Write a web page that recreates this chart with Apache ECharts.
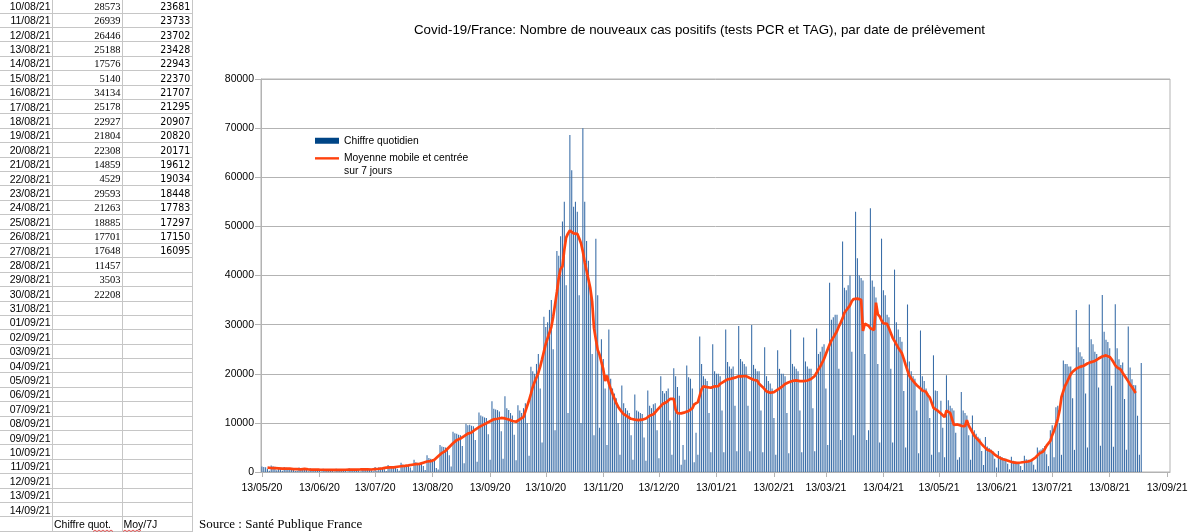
<!DOCTYPE html>
<html>
<head>
<meta charset="utf-8">
<script src="https://cdn.jsdelivr.net/npm/echarts@6/dist/echarts.min.js"></script>
<style>
html,body{margin:0;padding:0;background:#ffffff;}
#chart{width:1200px;height:532px;}
</style>
</head>
<body>
<div id="chart"></div>
<script>
// ---------- DATA ----------
// Axis: one category per day, from 13/05/20 to 14/09/21 (490 days)
const firstDay = [2020, 4, 13];   // year, month index, day
const dayCount = 490;
const tickLabels = ['13/05/20','13/06/20','13/07/20','13/08/20','13/09/20','13/10/20','13/11/20',
  '13/12/20','13/01/21','13/02/21','13/03/21','13/04/21','13/05/21','13/06/21','13/07/21',
  '13/08/21','13/09/21'];

// Daily new positive cases, from Wed 13/05/20 to Mon 30/08/21 (weeks Mon..Sun after the first 5 days)
const dailyCases = [
  1100,1000,950,600,250,
  1300,1150,1050,350,850,600,230,
  1000,850,800,760,700,480,180,
  250,900,750,700,650,420,150,
  750,600,560,530,510,350,120,
  680,540,500,470,450,310,110,
  660,520,490,480,470,320,110,
  750,600,560,540,520,350,120,
  830,650,620,600,580,380,130,
  1000,250,950,870,850,560,190,
  1450,1150,1100,1050,1000,680,230,
  1900,1550,1450,1400,1350,900,300,
  2500,2000,1900,1800,1750,1200,400,
  3400,2850,2700,2650,2600,800,500,
  5500,5200,5100,5000,4900,3400,1100,
  8200,7900,7800,7600,7500,5300,1800,
  9800,9500,9600,9400,9300,6500,2100,
  12100,11500,11300,11100,11000,7700,2500,
  14400,12900,12700,12600,12300,8300,2700,
  15400,13000,12600,12000,11500,7600,2400,
  13600,12500,12000,13000,14000,10000,3300,
  21400,20500,20000,22000,24000,17000,6000,
  31600,29500,30500,33000,35000,25000,8500,
  45000,44000,48000,51000,55000,38000,12000,
  68600,61400,54000,55000,53000,36000,10000,
  70000,55000,47000,43000,38000,24000,7500,
  47500,36000,9000,27000,23000,17000,5500,
  29000,19000,17000,16000,15000,10000,3500,
  17600,14000,13000,12500,12000,7500,2500,
  15800,12500,12300,12000,11800,7000,2300,
  16600,13500,13000,13800,14000,8500,2800,
  19500,16500,16000,16500,17000,10500,3500,
  21100,19500,17300,15500,1500,5500,2500,
  21700,19300,19000,17000,2000,8000,3500,
  27600,22000,19500,19000,18500,12000,4000,
  26000,20500,20000,20000,19500,12500,4000,
  29000,22400,21500,21000,21500,13500,4200,
  29700,23000,22500,22000,21500,13500,4200,
  29900,21800,21000,20500,20500,12500,4000,
  25400,19500,18500,18000,17000,11000,3500,
  24800,21000,20000,20000,19500,12000,3800,
  29000,22000,21500,21000,20500,12500,4000,
  27400,22500,21500,21000,21000,13000,4200,
  29200,24000,24500,25500,26000,17000,5500,
  38500,31000,31500,32000,32000,21000,6500,
  46900,37500,37000,38000,40000,24500,7500,
  53000,43500,40000,39500,39000,24000,6500,
  8500,53700,39000,37700,35500,22000,6000,
  47500,37000,36000,32000,31500,21000,6000,
  41200,30500,29000,27500,26500,16500,5000,
  34100,22500,20500,19500,19000,12500,3800,
  28800,19500,18500,17000,16000,11000,3500,
  23750,16600,16500,4000,14500,9000,3000,
  19700,14600,13500,13000,12500,8000,2500,
  3000,16300,12500,12000,11500,7500,2500,
  11500,8500,7800,7200,6800,4300,1400,
  7100,5200,4900,4600,4300,2700,900,
  4300,3200,3000,2800,2700,1700,550,
  3100,2300,2100,2000,1900,1200,400,
  3300,2600,2500,2400,2300,1500,500,
  5000,4400,4600,4900,5300,3600,1200,
  8500,9500,3000,13200,13500,10000,3500,
  22700,22000,22000,21500,21500,15000,4500,
  33000,25400,24400,23500,23000,16000,5000,
  34100,27000,26000,24500,24000,17212,5357,
  36052,28573,26939,26446,25188,17576,5140,
  34134,25178,22927,21804,22308,14859,4529,
  29593,21263,18885,17701,17648,11457,3503,
  22208
];

// Centered 7-day moving average, from Sat 16/05/20 to Fri 27/08/21
const movingAverageStart = 3; // index of 16/05/20 on the axis
const movingAverage = [
  907,900,807,793,793,790,747,
  704,669,727,706,689,681,574,
  581,574,566,559,550,546,617,
  574,547,523,503,493,489,479,
  470,461,453,444,439,437,434,
  431,430,431,434,436,436,449,
  460,470,479,486,490,491,503,
  510,519,527,536,540,541,566,
  509,556,594,633,659,667,731,
  860,881,907,929,946,951,1016,
  1073,1123,1173,1223,1254,1264,1350,
  1414,1479,1536,1593,1636,1650,1779,
  1900,2014,2136,2257,2200,2214,2514,
  2850,3193,3529,3857,4229,4314,4700,
  5086,5471,5843,6214,6486,6586,6814,
  7043,7300,7557,7814,7986,8029,8357,
  8643,8886,9129,9371,9543,9600,9929,
  10129,10329,10543,10729,10814,10843,10986,
  11000,10986,10900,10786,10686,10643,10386,
  10314,10229,10371,10729,11071,11200,12314,
  13457,14600,15886,17314,18314,18700,20157,
  21443,22943,24514,26086,27229,27586,29500,
  31571,34071,36643,39500,41357,41857,45229,
  47714,48571,49143,48857,48571,48286,48486,
  47571,46571,44857,42714,41000,40643,37429,
  34714,29286,27000,24857,23857,23571,20929,
  18500,19643,18071,16929,15929,15643,14014,
  13300,12729,12229,11800,11443,11300,11043,
  10829,10729,10657,10629,10557,10529,10643,
  10786,10886,11143,11457,11671,11743,12157,
  12586,13014,13400,13829,14114,14214,14443,
  14871,15057,14914,12700,11986,11843,11929,
  11900,12143,12357,12429,12786,12929,13771,
  14157,14229,14514,16871,17443,17514,17286,
  17071,17143,17286,17429,17500,17500,17929,
  18200,18414,18557,18843,18986,19014,19114,
  19200,19343,19486,19486,19486,19486,19514,
  19343,19129,18914,18771,18629,18600,17957,
  17629,17271,16914,16414,16200,16129,16043,
  16257,16471,16757,17114,17257,17300,17900,
  18043,18257,18400,18543,18614,18643,18414,
  18486,18486,18486,18557,18629,18657,18914,
  19129,19557,20200,20914,21486,21671,23000,
  24000,25000,25929,26786,27357,27500,28700,
  29629,30414,31271,32414,32914,33057,33929,
  34786,35214,35429,35286,35214,35071,28714,
  30171,30029,29771,29271,28986,28914,34486,
  32100,31671,30857,30286,30143,30143,29243,
  28314,27314,26671,25957,25314,25171,24157,
  23014,21800,20657,19586,19014,18843,18086,
  17657,17371,17014,16586,16371,16329,15607,
  15193,14907,13050,12836,12550,12479,11900,
  11614,11186,12471,12186,12043,11971,9586,
  9829,9686,9543,9400,9329,9329,10543,
  9429,8757,8071,7400,6943,6786,6157,
  5686,5271,4900,4543,4314,4243,3843,
  3557,3286,3029,2800,2657,2607,2436,
  2307,2179,2064,1950,1879,1857,1886,
  1929,1986,2043,2100,2143,2157,2400,
  2657,2957,3314,3743,4043,4143,4643,
  5371,5143,6329,7500,8414,8743,10771,
  12557,15271,16457,17600,18314,18457,19929,
  20414,20757,21043,21257,21400,21471,21629,
  21857,22086,22229,22371,22545,22596,22874,
  23099,23233,23511,23681,23733,23702,23428,
  22943,22370,21707,21295,20907,20820,20171,
  19612,19034,18448,17783,17297,17150,16095
];

// Spreadsheet extract shown on the left
const tableDates = ['10/08/21','11/08/21','12/08/21','13/08/21','14/08/21','15/08/21','16/08/21',
  '17/08/21','18/08/21','19/08/21','20/08/21','21/08/21','22/08/21','23/08/21','24/08/21',
  '25/08/21','26/08/21','27/08/21','28/08/21','29/08/21','30/08/21','31/08/21','01/09/21',
  '02/09/21','03/09/21','04/09/21','05/09/21','06/09/21','07/09/21','08/09/21','09/09/21',
  '10/09/21','11/09/21','12/09/21','13/09/21','14/09/21'];
const tableDaily = [28573,26939,26446,25188,17576,5140,34134,25178,22927,21804,22308,14859,4529,
  29593,21263,18885,17701,17648,11457,3503,22208];
const tableAvg = [23681,23733,23702,23428,22943,22370,21707,21295,20907,20820,20171,19612,19034,
  18448,17783,17297,17150,16095];
const tableHeaders = ['Chiffre quot.', 'Moy/7J'];

const titleText = 'Covid-19/France: Nombre de nouveaux cas positifs (tests PCR et TAG), par date de prélèvement';
const sourceText = 'Source : Santé Publique France';
const barName = 'Chiffre quotidien';
const lineName = 'Moyenne mobile et centrée\nsur 7 jours';

// ---------- BUILD ----------
function fmtDate(d) {
  const dd = String(d.getUTCDate()).padStart(2, '0');
  const mm = String(d.getUTCMonth() + 1).padStart(2, '0');
  const yy = String(d.getUTCFullYear()).slice(2);
  return dd + '/' + mm + '/' + yy;
}
const categories = [];
for (let i = 0; i < dayCount; i++) {
  categories.push(fmtDate(new Date(Date.UTC(firstDay[0], firstDay[1], firstDay[2] + i))));
}
const barData = categories.map((c, i) => (i < dailyCases.length ? dailyCases[i] : null));
const lineData = categories.map((c, i) => {
  const k = i - movingAverageStart;
  return (k >= 0 && k < movingAverage.length) ? movingAverage[k] : null;
});
const isTick = (idx, val) => tickLabels.indexOf(val) >= 0;

const FONT = "'Liberation Sans', Arial, sans-serif";
const gridColor = '#b3b3b3';

// table graphics
const rowH = 14.39;
const tableEls = [];
const colLines = [52.5, 122.5, 192.5];
colLines.forEach(x => tableEls.push({
  type: 'line', shape: {x1: x, y1: 0, x2: x, y2: 532},
  style: {stroke: '#c6c6c6', lineWidth: 1}, silent: true
}));
for (let k = 0; k <= tableDates.length; k++) {
  const y = Math.round(12.7 + rowH * k) + 0.5;
  tableEls.push({
    type: 'line', shape: {x1: 0, y1: y, x2: 192.5, y2: y},
    style: {stroke: '#c6c6c6', lineWidth: 1}, silent: true
  });
}
tableDates.forEach((d, i) => {
  const yc = 7 + rowH * i;
  tableEls.push({type: 'text', x: 50.5, y: yc, style: {text: d, fontFamily: FONT, fontSize: 10.5,
    fill: '#000', align: 'right', verticalAlign: 'middle'}, silent: true});
  if (i < tableDaily.length) {
    tableEls.push({type: 'text', x: 120.5, y: yc, style: {text: String(tableDaily[i]),
      fontFamily: "'Liberation Serif', serif", fontSize: 10.5, fill: '#000', align: 'right', verticalAlign: 'middle'}, silent: true});
  }
  if (i < tableAvg.length) {
    tableEls.push({type: 'text', x: 190.3, y: yc, style: {text: String(tableAvg[i]),
      fontFamily: "'Liberation Sans Narrow', 'DejaVu Sans Condensed', sans-serif", fontSize: 10.5, fill: '#000', align: 'right', verticalAlign: 'middle'}, silent: true});
  }
});
const hdrY = 7 + rowH * tableDates.length;
tableEls.push({type: 'text', x: 54, y: hdrY, style: {text: tableHeaders[0], fontFamily: FONT, fontSize: 10.5,
  fill: '#000', align: 'left', verticalAlign: 'middle'}, silent: true});
tableEls.push({type: 'text', x: 123.5, y: hdrY, style: {text: tableHeaders[1], fontFamily: FONT, fontSize: 10.5,
  fill: '#000', align: 'left', verticalAlign: 'middle'}, silent: true});
// red spell-check squiggles
function squiggle(x0, x1, y) {
  const pts = [];
  let up = false;
  for (let x = x0; x <= x1; x += 2) { pts.push([x, up ? y - 1 : y + 0.5]); up = !up; }
  return {type: 'polyline', shape: {points: pts}, style: {stroke: '#e03030', lineWidth: 0.8, fill: null}, silent: true};
}
tableEls.push(squiggle(93, 114, hdrY + 6));
tableEls.push(squiggle(123, 141, hdrY + 6));

const legendText = {fontFamily: FONT, fontSize: 10.3, color: '#000', lineHeight: 12.7};

const option = {
  backgroundColor: '#ffffff',
  animation: false,
  textStyle: {fontFamily: FONT},
  title: {
    text: titleText,
    left: 414,
    top: 23.5,
    padding: 0,
    textStyle: {fontFamily: FONT, fontSize: 13.3, fontWeight: 'normal', color: '#000'}
  },
  legend: [
    {
      orient: 'vertical',
      left: 315,
      top: 134.4,
      padding: 0,
      itemWidth: 24,
      itemHeight: 6,
      selectedMode: false,
      textStyle: legendText,
      itemStyle: {borderWidth: 0},
      data: [{name: barName, icon: 'rect', itemStyle: {color: '#004586', borderWidth: 0}}]
    },
    {
      orient: 'vertical',
      left: 315,
      top: 139.3,
      padding: 0,
      itemWidth: 24,
      itemHeight: 2.4,
      selectedMode: false,
      textStyle: legendText,
      itemStyle: {borderWidth: 0},
      formatter: name => ' \n' + name,
      data: [{name: lineName, icon: 'rect', itemStyle: {color: '#ff420e', borderWidth: 0}}]
    }
  ],
  grid: {
    left: 261, right: 30, top: 79, bottom: 60,
    show: true, borderColor: gridColor, borderWidth: 1, backgroundColor: 'transparent',
    containLabel: false
  },
  xAxis: {
    type: 'category',
    data: categories,
    boundaryGap: true,
    axisLine: {lineStyle: {color: gridColor}},
    axisTick: {show: true, alignWithLabel: true, interval: isTick, length: 5, lineStyle: {color: gridColor}},
    axisLabel: {interval: isTick, fontFamily: FONT, fontSize: 10.5, color: '#000', margin: 10.5},
    splitLine: {show: false}
  },
  yAxis: {
    type: 'value',
    min: 0, max: 80000, interval: 10000,
    axisLine: {show: true, lineStyle: {color: gridColor}},
    axisTick: {show: true, length: 6, lineStyle: {color: gridColor}},
    axisLabel: {fontFamily: FONT, fontSize: 10.5, color: '#000', margin: 7, formatter: v => String(v)},
    splitLine: {show: true, lineStyle: {color: gridColor, width: 1}}
  },
  series: [
    {
      name: barName,
      type: 'bar',
      data: barData,
      barCategoryGap: '42%',
      itemStyle: {color: '#3a6ea8'},
      large: false
    },
    {
      name: lineName,
      type: 'line',
      data: lineData,
      symbol: 'none',
      showSymbol: false,
      connectNulls: false,
      lineStyle: {color: '#ff420e', width: 2.7},
      itemStyle: {color: '#ff420e'},
      z: 5
    }
  ],
  graphic: [
    {type: 'group', children: tableEls, silent: true},
    {type: 'text', x: 199, y: 525, style: {text: sourceText, fontFamily: "'Liberation Serif', 'Times New Roman', serif",
      fontSize: 13, fill: '#000', align: 'left', verticalAlign: 'middle'}, silent: true}
  ]
};

const chart = echarts.init(document.getElementById('chart'), null, {renderer: 'canvas'});
chart.setOption(option);
</script>
</body>
</html>
